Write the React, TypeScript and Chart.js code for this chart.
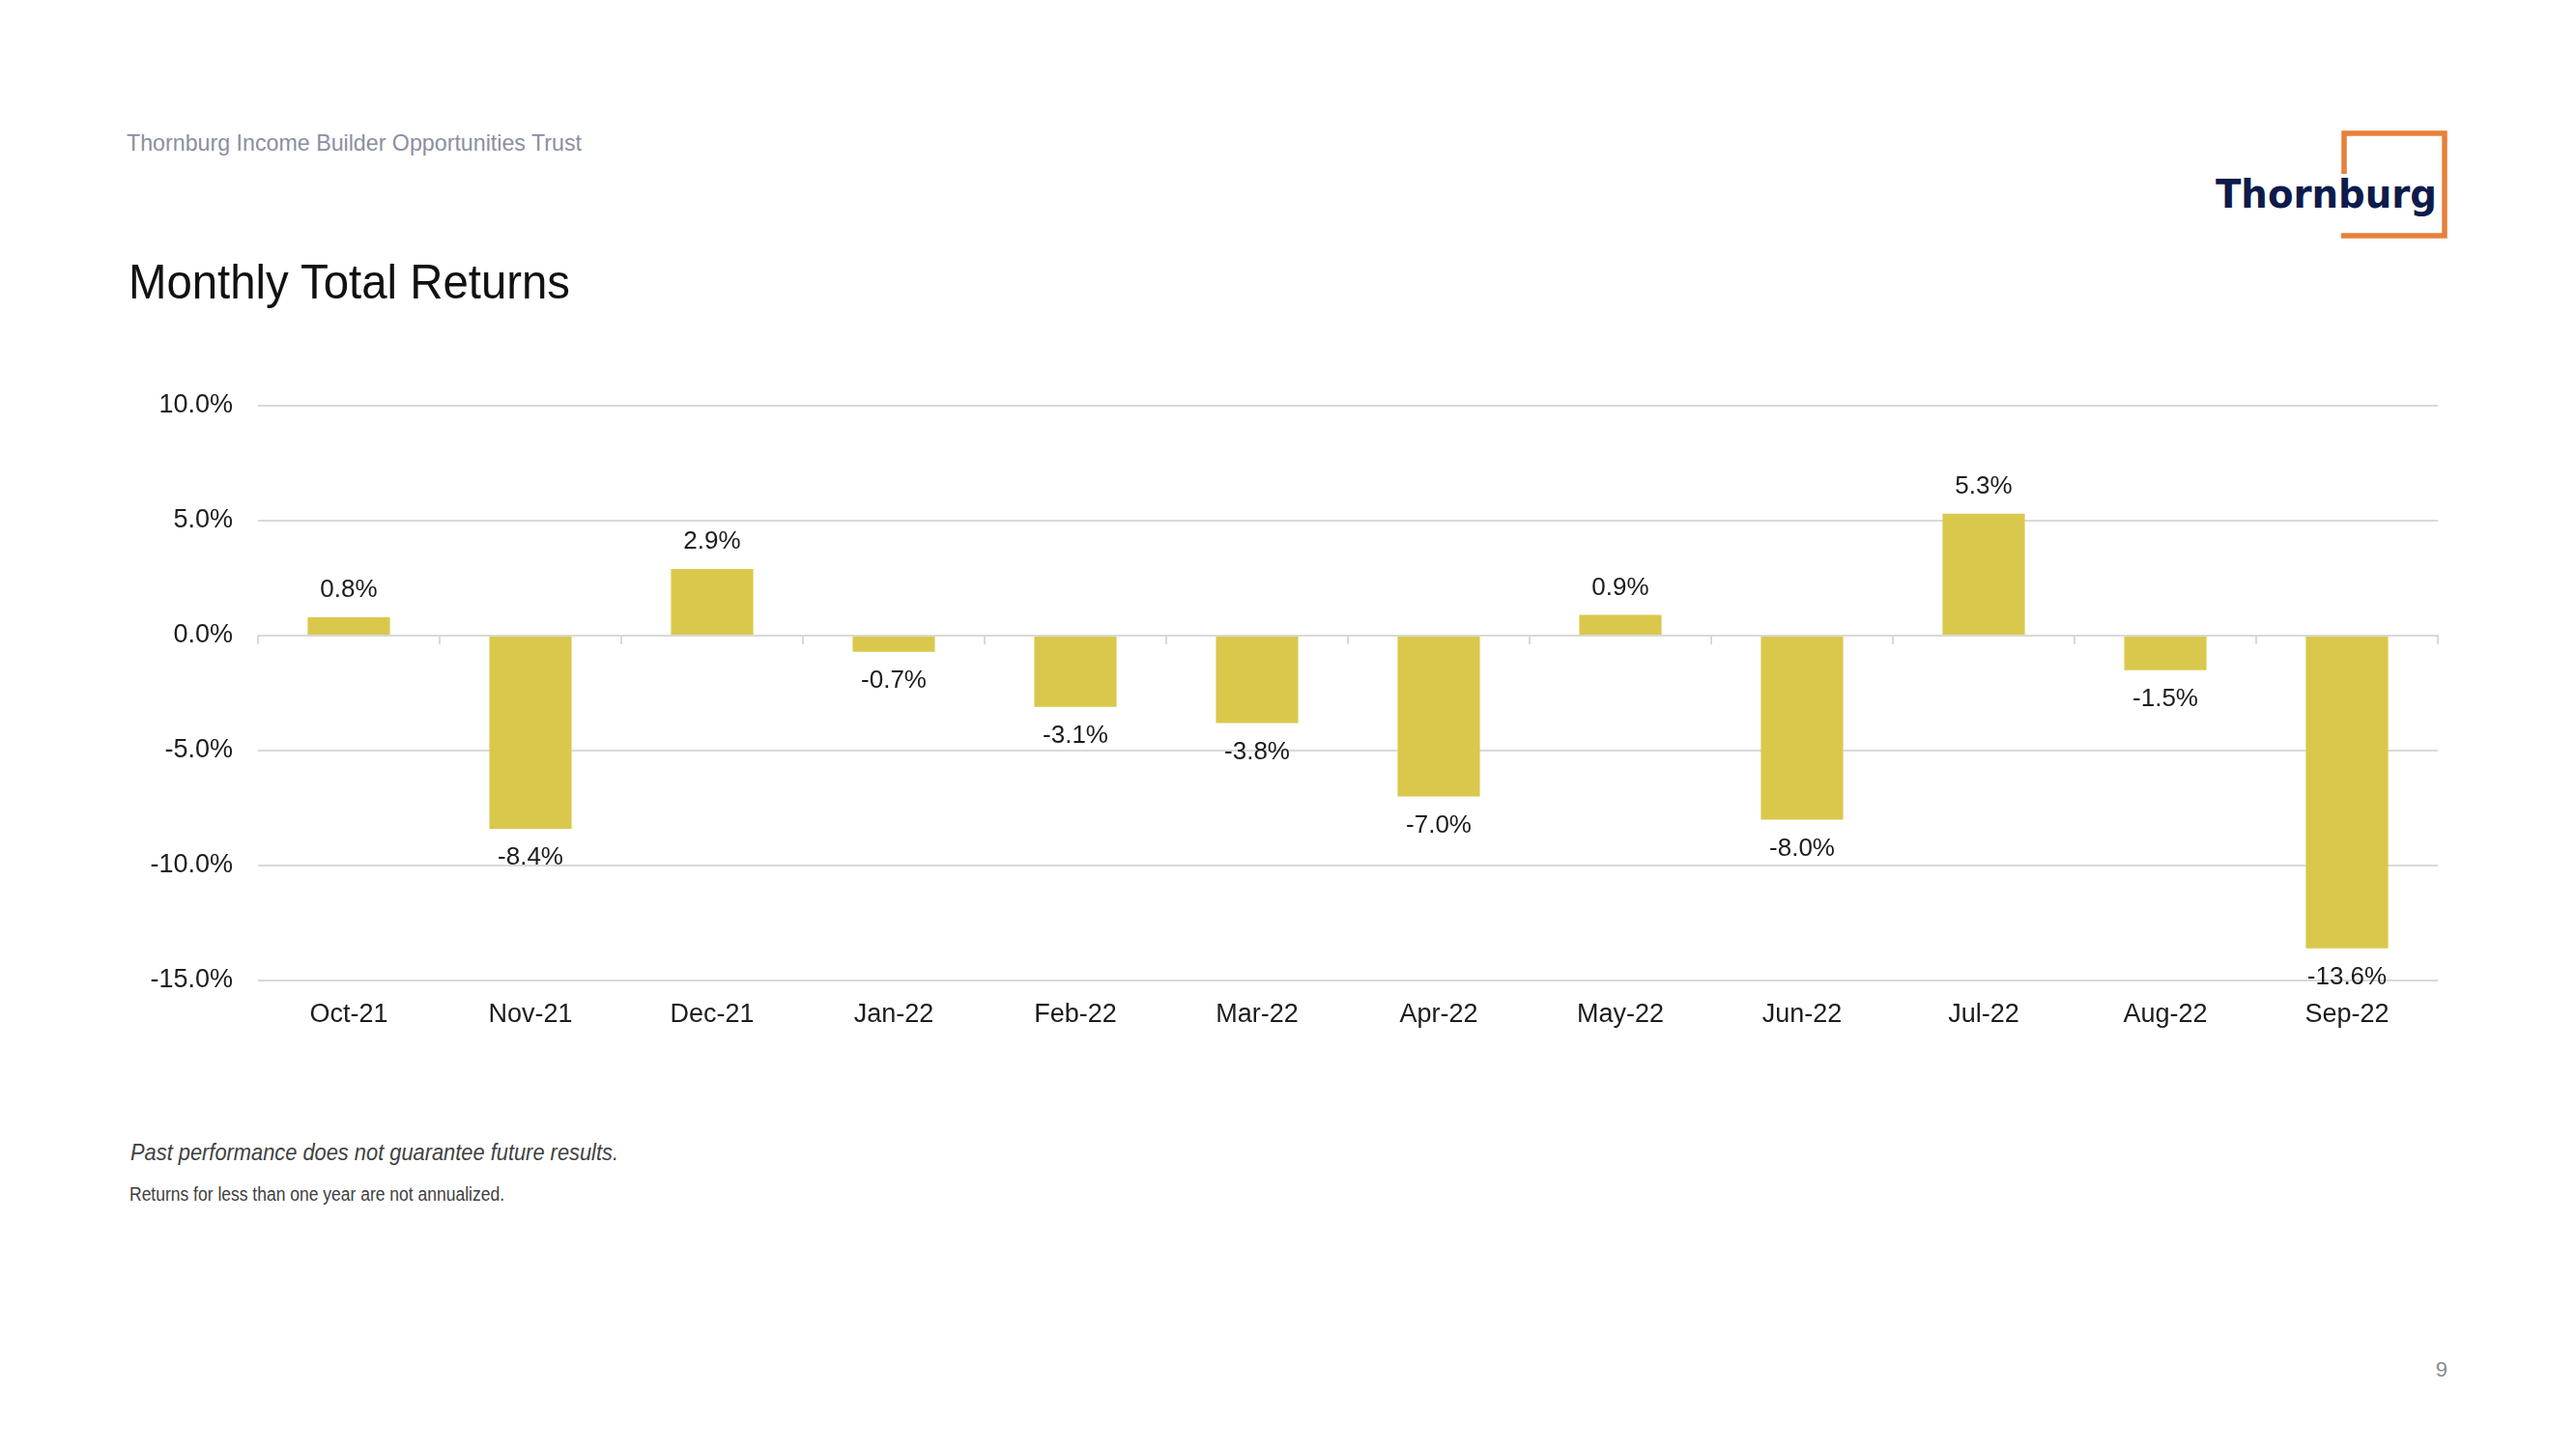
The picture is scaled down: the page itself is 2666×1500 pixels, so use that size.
import React, { useEffect, useRef } from 'react';
import { Chart, registerables } from 'chart.js';

Chart.register(...registerables);

// ---- Data ----
const months = ['Oct-21', 'Nov-21', 'Dec-21', 'Jan-22', 'Feb-22', 'Mar-22', 'Apr-22', 'May-22', 'Jun-22', 'Jul-22', 'Aug-22', 'Sep-22'];
const monthlyReturns = [0.8, -8.4, 2.9, -0.7, -3.1, -3.8, -7.0, 0.9, -8.0, 5.3, -1.5, -13.6];
const yTickValues = [-15, -10, -5, 0, 5, 10];

const headerText = 'Thornburg Income Builder Opportunities Trust';
const titleText = 'Monthly Total Returns';
const footnote1 = 'Past performance does not guarantee future results.';
const footnote2 = 'Returns for less than one year are not annualized.';
const pageNumber = '9';
const logoText = 'Thornburg';

const FONT = '"Liberation Sans", Arial, Helvetica, sans-serif';
const BAR_COLOR = '#dac84c';
const GRID_COLOR = '#d9d9d9';
const TEXT_COLOR = '#1c1c1c';

const fmt = (v: number) => `${v.toFixed(1)}%`;

const valueLabelPlugin = {
  id: 'valueLabels',
  afterDatasetsDraw(chart: any) {
    const { ctx } = chart;
    const meta = chart.getDatasetMeta(0);
    ctx.save();
    ctx.font = `26px ${FONT}`;
    ctx.fillStyle = TEXT_COLOR;
    ctx.textAlign = 'center';
    ctx.textBaseline = 'middle';
    meta.data.forEach((bar: any, i: number) => {
      const v = monthlyReturns[i];
      const y = v >= 0 ? bar.y - 28 : bar.y + 30;
      ctx.fillText(fmt(v), bar.x, y);
    });
    ctx.restore();
  },
};

export default function App() {
  const canvasRef = useRef<HTMLCanvasElement | null>(null);

  useEffect(() => {
    const canvas = canvasRef.current;
    if (!canvas) return;
    Chart.defaults.font.family = FONT;
    const chart = new Chart(canvas, {
      type: 'bar',
      data: {
        labels: months,
        datasets: [
          {
            data: monthlyReturns,
            backgroundColor: BAR_COLOR,
            borderWidth: 0,
            categoryPercentage: 1,
            barPercentage: 0.453,
          },
        ],
      },
      plugins: [valueLabelPlugin],
      options: {
        responsive: false,
        animation: false,
        devicePixelRatio: 1,
        layout: { padding: { top: 30, right: 17, left: 0, bottom: 0 } },
        plugins: {
          legend: { display: false },
          tooltip: { enabled: false },
        },
        scales: {
          x: {
            type: 'category',
            position: 'bottom',
            offset: true,
            grid: { display: false, drawTicks: false, offset: true },
            border: { display: false },
            ticks: {
              color: TEXT_COLOR,
              font: { size: 27, family: FONT },
              padding: 19,
              maxRotation: 0,
              autoSkip: false,
            },
            afterFit: (scale: any) => {
              scale.height = 75;
              scale.paddingLeft = 0;
              scale.paddingRight = 0;
            },
          },
          x2: {
            type: 'category',
            position: { y: 0 } as any,
            offset: true,
            grid: {
              display: true,
              offset: true,
              drawOnChartArea: false,
              drawTicks: true,
              tickLength: 8,
              color: GRID_COLOR,
              lineWidth: 2,
            },
            border: { display: true, color: GRID_COLOR, width: 2 },
            ticks: { display: false },
            afterFit: (scale: any) => {
              scale.height = 0;
              scale.paddingLeft = 0;
              scale.paddingRight = 0;
            },
          },
          y: {
            type: 'linear',
            min: -15,
            max: 10,
            afterBuildTicks: (scale: any) => {
              scale.ticks = yTickValues.map((v) => ({ value: v }));
            },
            grid: { color: GRID_COLOR, lineWidth: 2, drawTicks: false },
            border: { display: false },
            ticks: {
              color: TEXT_COLOR,
              font: { size: 27, family: FONT },
              padding: 26,
              callback: (v: any) => fmt(Number(v)),
            },
            afterFit: (scale: any) => {
              scale.width = 137;
              scale.paddingTop = 0;
              scale.paddingBottom = 0;
            },
          },
        },
      } as any,
    });
    return () => chart.destroy();
  }, []);

  return (
    <div
      style={{
        position: 'absolute',
        left: 0,
        top: 0,
        width: 2666,
        height: 1500,
        background: '#ffffff',
        overflow: 'hidden',
      }}
    >
      <svg
        width={2666}
        height={1500}
        style={{ position: 'absolute', left: 0, top: 0 }}
      >
        <text
          x={131}
          y={156}
          fontFamily={FONT}
          fontSize={24}
          fill="#8b8ea3"
          textLength={471}
          lengthAdjust="spacingAndGlyphs"
        >
          {headerText}
        </text>
        <text
          x={133}
          y={309}
          fontFamily={FONT}
          fontSize={50}
          fill="#111111"
          textLength={457}
          lengthAdjust="spacingAndGlyphs"
        >
          {titleText}
        </text>
        <text
          x={135}
          y={1201}
          fontFamily={FONT}
          fontStyle="italic"
          fontSize={24}
          fill="#404040"
          textLength={505}
          lengthAdjust="spacingAndGlyphs"
        >
          {footnote1}
        </text>
        <text
          x={134}
          y={1243}
          fontFamily={FONT}
          fontSize={20}
          fill="#404040"
          textLength={388}
          lengthAdjust="spacingAndGlyphs"
        >
          {footnote2}
        </text>
        <text
          x={2533}
          y={1425}
          fontFamily={FONT}
          fontSize={22}
          fill="#8a8a8a"
          textAnchor="end"
        >
          {pageNumber}
        </text>
        <path
          d="M2426,180 V138 H2530 V244 H2423"
          fill="none"
          stroke="#e8803a"
          strokeWidth={5.5}
        />
        <text
          x={2293}
          y={215}
          fontFamily='"DejaVu Sans", sans-serif'
          fontWeight="bold"
          fontSize={41}
          fill="#0d1b4b"
          textLength={229}
          lengthAdjust="spacingAndGlyphs"
        >
          {logoText}
        </text>
      </svg>
      <canvas
        ref={canvasRef}
        width={2410}
        height={700}
        style={{ position: 'absolute', left: 130, top: 390, width: 2410, height: 700 }}
      />
    </div>
  );
}
